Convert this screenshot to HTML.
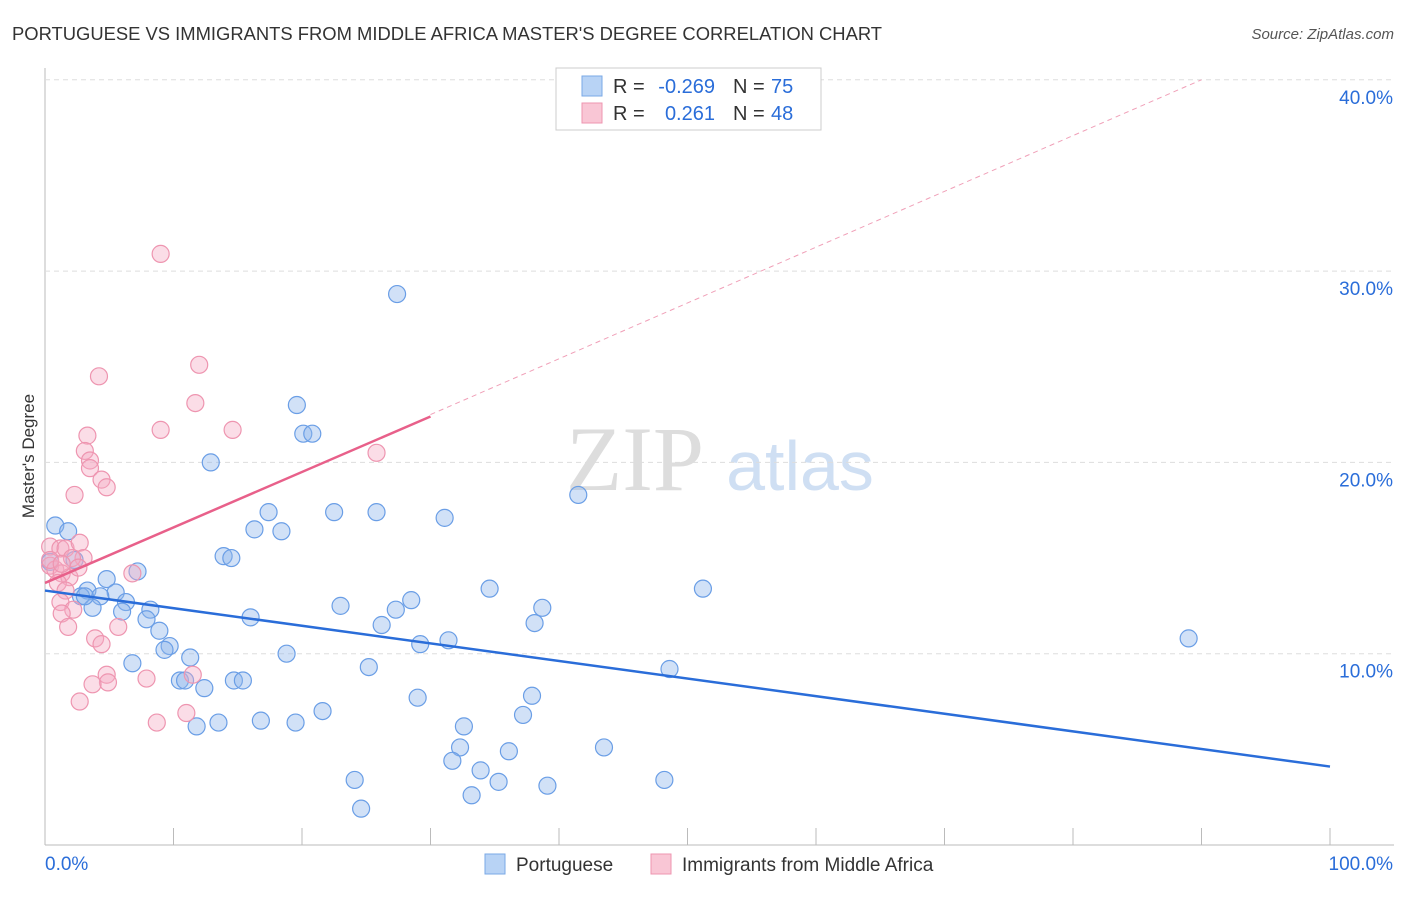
<!DOCTYPE html>
<html><head><meta charset="utf-8"><style>
body{margin:0;background:#fff;font-family:"Liberation Sans",sans-serif}
</style></head><body>
<svg id="c" width="1406" height="892" xmlns="http://www.w3.org/2000/svg">
<text x="12" y="40" font-size="18.4" fill="#333">PORTUGUESE VS IMMIGRANTS FROM MIDDLE AFRICA MASTER'S DEGREE CORRELATION CHART</text>
<text x="1394" y="39" font-size="15" fill="#555" text-anchor="end" font-style="italic">Source: ZipAtlas.com</text>
<text x="34" y="456" font-size="17" fill="#333" text-anchor="middle" transform="rotate(-90 34 456)">Master's Degree</text>
<g><text x="635" y="490" font-size="92" fill="#ddd" font-family="Liberation Serif,serif" text-anchor="middle">ZIP</text><text x="800" y="490" font-size="70" fill="#cfdff3" text-anchor="middle">atlas</text></g>
<g id="grid"></g><g id="pts"></g><g id="lines"></g>
<g font-size="20">
<rect x="556" y="68" width="265" height="62" fill="#fff" stroke="#ccc"/>
<rect x="582" y="76" width="20" height="20" fill="#b8d3f5" stroke="#7aa8e6"/>
<rect x="582" y="103" width="20" height="20" fill="#f9c6d5" stroke="#ee95b0"/>
<text x="613" y="93" fill="#333">R =</text><text x="715" y="93" fill="#2a6dd9" text-anchor="end">-0.269</text>
<text x="733" y="93" fill="#333">N =</text><text x="771" y="93" fill="#2a6dd9">75</text>
<text x="613" y="120" fill="#333">R =</text><text x="715" y="120" fill="#2a6dd9" text-anchor="end">0.261</text>
<text x="733" y="120" fill="#333">N =</text><text x="771" y="120" fill="#2a6dd9">48</text>
</g>
<g>
<rect x="485" y="854" width="20" height="20" fill="#b8d3f5" stroke="#7aa8e6"/><text x="516" y="871" font-size="19" fill="#333">Portuguese</text>
<rect x="651" y="854" width="20" height="20" fill="#f9c6d5" stroke="#ee95b0"/><text x="682" y="871" font-size="19" fill="#333">Immigrants from Middle Africa</text>
</g>
</svg>
<script>
const yTicks=[10,20,30,40];
const xTickLabels=["0.0%","100.0%"];
const blueX=[27.4,19.6,20.1,20.8,12.9,41.5,17.4,22.5,25.8,31.1,16.3,18.4,13.9,14.5,7.2,4.8,3.3,5.5,4.3,6.3,3.7,2.8,6.0,8.2,7.9,8.9,16.0,23.0,26.2,28.5,27.3,34.6,51.2,38.7,38.1,29.2,31.4,89.0,9.7,9.3,11.3,18.8,6.8,25.2,48.6,10.5,10.9,12.4,14.7,15.4,29.0,37.9,21.6,37.2,16.8,19.5,13.5,11.8,32.6,32.3,36.1,43.5,31.7,33.9,24.1,35.3,48.2,33.2,39.1,24.6,0.8,1.8,2.3,0.4,3.1];
const blueY=[28.8,23.0,21.5,21.5,20.0,18.3,17.4,17.4,17.4,17.1,16.5,16.4,15.1,15.0,14.3,13.9,13.3,13.2,13.0,12.7,12.4,13.0,12.2,12.3,11.8,11.2,11.9,12.5,11.5,12.8,12.3,13.4,13.4,12.4,11.6,10.5,10.7,10.8,10.4,10.2,9.8,10.0,9.5,9.3,9.2,8.6,8.6,8.2,8.6,8.6,7.7,7.8,7.0,6.8,6.5,6.4,6.4,6.2,6.2,5.1,4.9,5.1,4.4,3.9,3.4,3.3,3.4,2.6,3.1,1.9,16.7,16.4,14.9,14.8,13.0];
const pinkX=[9.0,12.0,4.2,11.7,9.0,14.6,3.3,3.1,25.8,3.5,3.5,4.4,4.8,2.3,0.4,1.2,1.6,2.7,3.0,2.1,0.4,0.8,1.3,1.9,2.6,1.0,1.6,1.2,2.2,1.3,1.8,5.7,6.8,3.9,4.4,4.8,11.5,4.9,3.7,7.9,2.7,11.0,8.7,0.4,1.3];
const pinkY=[30.9,25.1,24.5,23.1,21.7,21.7,21.4,20.6,20.5,20.1,19.7,19.1,18.7,18.3,15.6,15.5,15.5,15.8,15.0,15.0,14.6,14.4,14.2,14.0,14.5,13.7,13.3,12.7,12.3,12.1,11.4,11.4,14.2,10.8,10.5,8.9,8.9,8.5,8.4,8.7,7.5,6.9,6.4,14.9,14.7];
const X=v=>45+v*12.85, Y=v=>845-v*19.13;
const NS="http://www.w3.org/2000/svg";
const mk=(t,a,p)=>{const e=document.createElementNS(NS,t);for(const k in a)e.setAttribute(k,a[k]);p.appendChild(e);return e;};
const g=document.getElementById('grid');
const ax=mk('line',{x1:45,y1:68,x2:45,y2:845,stroke:'#bbb'},g);


const xa=mk('line',{x1:45,y1:845,x2:1394,y2:845,stroke:'#bbb'},g);


for(let i=1;i<=10;i++){const l=mk('line',{x1:45+i*128.5,y1:828,x2:45+i*128.5,y2:845,stroke:'#bbb'},g);

}
yTicks.forEach(v=>{const l=mk('line',{x1:45,y1:Y(v),x2:1394,y2:Y(v),stroke:'#ddd','stroke-dasharray':'5,4'},g);


const t=mk('text',{x:1393,y:Y(v)+24,'font-size':19,fill:'#2a6dd9','text-anchor':'end'},g);t.textContent=v.toFixed(1)+'%';

});
xTickLabels.forEach((s,i)=>{const t=mk('text',{x:i?1393:45,y:870,'font-size':19,fill:'#2a6dd9','text-anchor':i?'end':'start'},g);t.textContent=s;

});
const p=document.getElementById('pts');
blueX.forEach((x,i)=>{const c=mk('circle',{cx:X(x),cy:Y(blueY[i]),r:8.5,fill:'rgba(140,180,235,0.4)',stroke:'#6a9ee6','stroke-width':1.2},p);

});
pinkX.forEach((x,i)=>{const c=mk('circle',{cx:X(x),cy:Y(pinkY[i]),r:8.5,fill:'rgba(245,170,195,0.4)',stroke:'#ee95b0','stroke-width':1.2},p);

});
const L=document.getElementById('lines');
const b=mk('line',{x1:X(0),y1:Y(13.3),x2:X(100),y2:Y(4.1),stroke:'#2a6dd9','stroke-width':2.5},L);


const pd=mk('line',{x1:X(30),y1:Y(22.5),x2:X(90),y2:Y(40),stroke:'#f0a0b8','stroke-width':1,'stroke-dasharray':'5,4'},L);


const pl=mk('line',{x1:X(0),y1:Y(13.7),x2:X(30),y2:Y(22.4),stroke:'#e8608a','stroke-width':2.5},L);


</script>
</body></html>
